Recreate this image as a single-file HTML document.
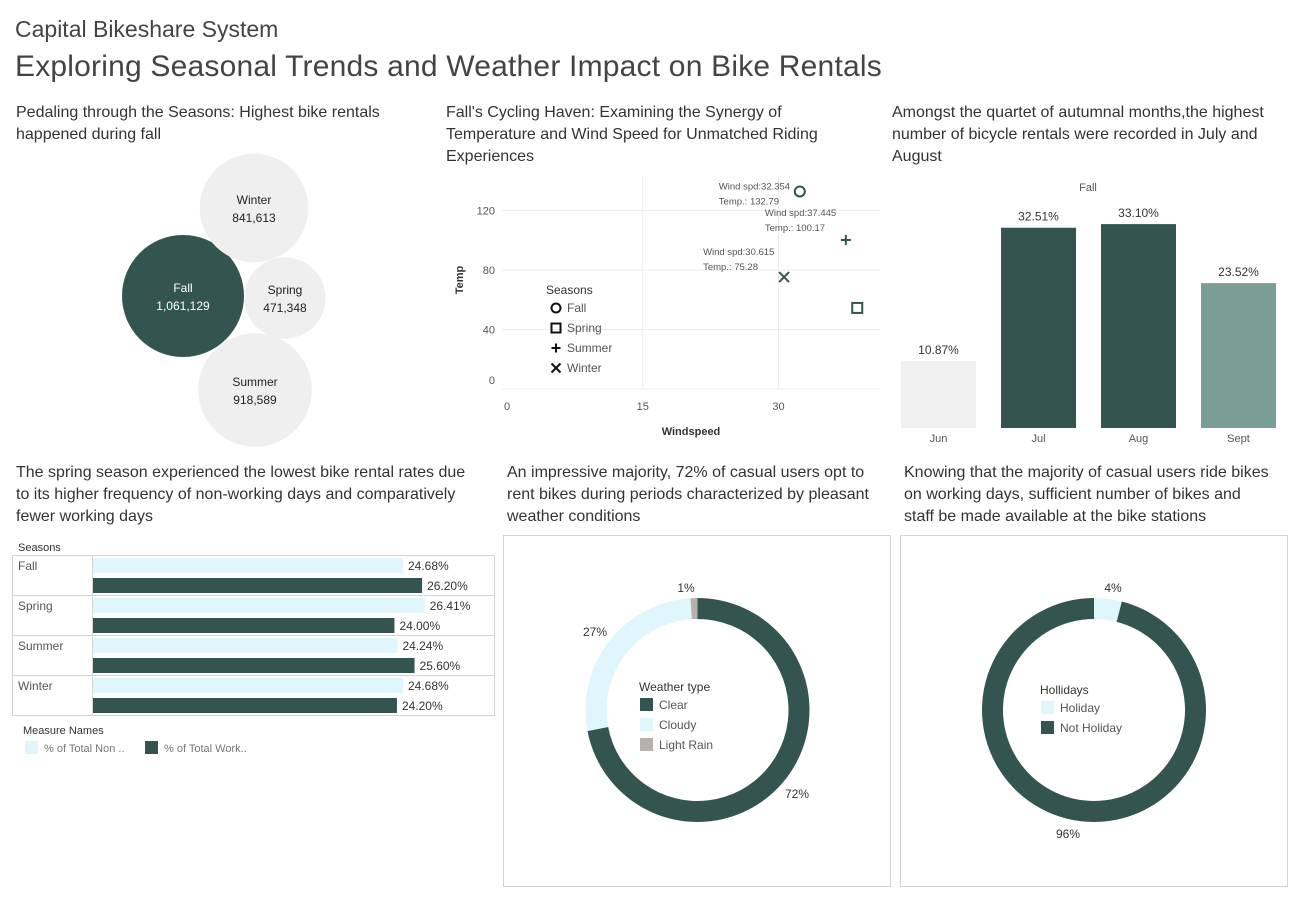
<!DOCTYPE html>
<html><head><meta charset="utf-8"><style>
body{margin:0;width:1299px;height:899px;background:#fff;font-family:"Liberation Sans",sans-serif;overflow:hidden;position:relative;color:#333}
.t{position:absolute;white-space:nowrap}
svg{position:absolute;left:0;top:0}
</style></head><body>
<div class="t" style="left:15px;top:16px;font-size:23px;color:#444">Capital Bikeshare System</div>
<div class="t" style="left:15px;top:50px;font-size:30px;color:#444;letter-spacing:0.2px">Exploring Seasonal Trends and Weather Impact on Bike Rentals</div>
<div class="t" style="left:16px;top:102px;font-size:16px;line-height:22px">Pedaling through the Seasons: Highest bike rentals<br>happened during fall</div>
<div class="t" style="left:446px;top:102px;font-size:16px;line-height:22px">Fall's Cycling Haven: Examining the Synergy of<br>Temperature and Wind Speed for Unmatched Riding<br>Experiences</div>
<div class="t" style="left:892px;top:102px;font-size:16px;line-height:22px">Amongst the quartet of autumnal months,the highest<br>number of bicycle rentals were recorded in July and<br>August</div>
<div class="t" style="left:16px;top:462px;font-size:16px;line-height:22px">The spring season experienced the lowest bike rental rates due<br>to its higher frequency of non-working days and comparatively<br>fewer working days</div>
<div class="t" style="left:507px;top:462px;font-size:16px;line-height:22px">An impressive majority, 72% of casual users opt to<br>rent bikes during periods characterized by pleasant<br>weather conditions</div>
<div class="t" style="left:904px;top:462px;font-size:16px;line-height:22px">Knowing that the majority of casual users ride bikes<br>on working days, sufficient number of bikes and<br>staff be made available at the bike stations</div>
<svg id="s" width="1299" height="899" font-family="Liberation Sans, sans-serif"></svg>
<script>
// bubble data
const bubbleSeasons=["Fall","Winter","Spring","Summer"];
const bubbleValues=[1061129,841613,471348,918589];
// scatter
const scatSeasons=["Fall","Spring","Summer","Winter"];
const scatWind=[32.354,38.7,37.445,30.615];
const scatTemp=[132.79,54.5,100.17,75.28];
const scatLabelled=[true,false,true,true];
const scatXTicks=[0,15,30];
const scatYTicks=[0,40,80,120];
// months
const months=["Jun","Jul","Aug","Sept"];
const monthPct=[10.87,32.51,33.10,23.52];
// hbar
const hSeasons=["Fall","Spring","Summer","Winter"];
const nonWork=[24.68,26.41,24.24,24.68];
const work=[26.20,24.00,25.60,24.20];
// donuts
const weatherTypes=["Clear","Cloudy","Light Rain"];
const weatherPct=[72,27,1];
const holidayTypes=["Holiday","Not Holiday"];
const holidayPct=[4,96];

const S=document.getElementById('s'),NS="http://www.w3.org/2000/svg";
function el(t,a,txt){const e=document.createElementNS(NS,t);for(const k in a)e.setAttribute(k,a[k]);if(txt!==undefined)e.textContent=txt;S.appendChild(e);return e;}
const DK="#34554f",LT="#dff6fd";

// bubbles
const bpos=[[183,296],[254,208],[285,298],[255,390]];
const bMax=Math.max(...bubbleValues);
bubbleSeasons.forEach((s,i)=>{
  const r=61*Math.sqrt(bubbleValues[i]/bMax);
  const c=el('circle',{cx:bpos[i][0],cy:bpos[i][1],r:r,fill:i==0?DK:"#efefef"});
  
  
  const col=i==0?"#fff":"#222";
  const t1=el('text',{x:bpos[i][0],y:bpos[i][1]-4,'text-anchor':'middle','font-size':12,fill:col},s);
  
  
  const t2=el('text',{x:bpos[i][0],y:bpos[i][1]+14,'text-anchor':'middle','font-size':12,fill:col},bubbleValues[i].toLocaleString('en-US'));
  
  
});

// scatter
const sx=v=>507+v*9.05, sy=v=>389-v*1.4875;
scatXTicks.forEach(v=>{
  if(v>0){const g=el('line',{x1:sx(v),x2:sx(v),y1:176,y2:389,stroke:"#ececec"});}
  const t=el('text',{x:sx(v),y:410,'text-anchor':'middle','font-size':11,fill:"#555"},v);
  
});
scatYTicks.forEach(v=>{
  const g=el('line',{x1:502,x2:880,y1:sy(v),y2:sy(v),stroke:"#ececec"});
  
  const t=el('text',{x:495,y:v==0?sy(v)-5:sy(v)+4,'text-anchor':'end','font-size':11,fill:"#555"},v);
  
});
const xt=el('text',{x:691,y:435,'text-anchor':'middle','font-size':11,'font-weight':'bold',fill:"#333"},"Windspeed");

const yt=el('text',{x:463,y:280,'text-anchor':'middle','font-size':11,'font-weight':'bold',fill:"#333",transform:"rotate(-90 463 280)"},"Temp");

function marker(kind,x,y,col,sz){
  let e;
  if(kind==0)e=el('circle',{cx:x,cy:y,r:sz,fill:"none",stroke:col,'stroke-width':2});
  else if(kind==1)e=el('rect',{x:x-sz,y:y-sz,width:2*sz,height:2*sz,fill:"none",stroke:col,'stroke-width':2});
  else if(kind==2)e=el('path',{d:`M${x-sz} ${y}H${x+sz}M${x} ${y-sz}V${y+sz}`,stroke:col,'stroke-width':2});
  else e=el('path',{d:`M${x-sz} ${y-sz}L${x+sz} ${y+sz}M${x+sz} ${y-sz}L${x-sz} ${y+sz}`,stroke:col,'stroke-width':2});
  return e;
}
const labelDy=[-2,0,-24,-22];
scatSeasons.forEach((s,i)=>{
  const x=sx(scatWind[i]),y=sy(scatTemp[i]);
  const m=marker(i,x,y,DK,5);
  
  
  if(scatLabelled[i]){
    const lx=x-81,ly=y+labelDy[i];
    const a=el('text',{x:lx,y:ly,'font-size':9.5,fill:"#555"},"Wind spd:"+scatWind[i]);
    
    const b=el('text',{x:lx,y:ly+15,'font-size':9.5,fill:"#555"},"Temp.: "+scatTemp[i]);
    
  }
});
const lg=el('text',{x:546,y:294,'font-size':12,fill:"#333"},"Seasons");

scatSeasons.forEach((s,i)=>{
  const y=308+i*20;
  const m=marker(i,556,y,"#111",4.5);
  
  const t=el('text',{x:567,y:y+4,'font-size':12,fill:"#555"},s);
  
});

// month bars
const mh=v=>v*6.16;
const ft=el('text',{x:1088,y:191,'text-anchor':'middle','font-size':11,fill:"#555"},"Fall");

const mcol=["#f0f0f0",DK,DK,"#7a9e96"];
months.forEach((m,i)=>{
  const x=901+i*100,h=mh(monthPct[i]);
  const r=el('rect',{x:x,y:428-h,width:75,height:h,fill:mcol[i]});
  
  const v=el('text',{x:x+37.5,y:428-h-7,'text-anchor':'middle','font-size':12,fill:"#333"},monthPct[i].toFixed(2)+"%");
  
  const l=el('text',{x:x+37.5,y:442,'text-anchor':'middle','font-size':11,fill:"#555"},m);
  
});

// hbar
const hw=v=>v*12.56;
const sh=el('text',{x:18,y:551,'font-size':11,fill:"#333"},"Seasons");

const fr=el('rect',{x:12.5,y:555.5,width:482,height:160,fill:"none",stroke:"#d4d4d4"});

const dv=el('line',{x1:92.5,x2:92.5,y1:555,y2:716,stroke:"#d4d4d4"});

hSeasons.forEach((s,i)=>{
  const y0=555+i*40;
  if(i>0){const ln=el('line',{x1:12,x2:494,y1:y0+.5,y2:y0+.5,stroke:"#d4d4d4"});}
  const l=el('text',{x:18,y:y0+15,'font-size':12,fill:"#555"},s);
  
  [[nonWork,LT,3],[work,DK,23]].forEach(([arr,c,off],j)=>{
    const w=hw(arr[i]);
    const r=el('rect',{x:93,y:y0+off,width:w,height:15,fill:c});
    
    const t=el('text',{x:93+w+5,y:y0+off+12,'font-size':12,fill:"#333"},arr[i].toFixed(2)+"%");
    
  });
});
const mn=el('text',{x:23,y:734,'font-size':11,fill:"#333"},"Measure Names");

[["% of Total Non ..",LT,25],["% of Total Work..",DK,145]].forEach(([n,c,x])=>{
  const r=el('rect',{x:x,y:741,width:13,height:13,fill:c});
  
  const t=el('text',{x:x+19,y:752,'font-size':11,fill:"#777"},n);
  
});

// donuts
function arc(cx,cy,R,r,a0,a1){
  const p=(a,rr)=>[cx+rr*Math.sin(a),cy-rr*Math.cos(a)];
  const lg=a1-a0>Math.PI?1:0;
  const [x0,y0]=p(a0,R),[x1,y1]=p(a1,R),[x2,y2]=p(a1,r),[x3,y3]=p(a0,r);
  return `M${x0} ${y0}A${R} ${R} 0 ${lg} 1 ${x1} ${y1}L${x2} ${y2}A${r} ${r} 0 ${lg} 0 ${x3} ${y3}Z`;
}
function donut(bx,cx,cy,names,vals,cols,labelPos,ltitle,lx,ly,key){
  const b=el('rect',{x:bx+.5,y:535.5,width:387,height:351,fill:"none",stroke:"#d4d4d4"});
  
  const tot=vals.reduce((a,b)=>a+b,0);let acc=0;
  vals.forEach((v,i)=>{
    const a0=acc/tot*2*Math.PI;acc+=v;const a1=acc/tot*2*Math.PI;
    const p=el('path',{d:arc(cx,cy,112,91,a0,a1),fill:cols[i]});
    
    
    const t=el('text',{x:labelPos[i][0],y:labelPos[i][1],'text-anchor':'middle','font-size':12,fill:"#333"},v+"%");
    
  });
  const tt=el('text',{x:lx,y:ly,'font-size':12,fill:"#333"},ltitle);
  
  names.forEach((n,i)=>{
    const r=el('rect',{x:lx+1,y:ly+7+i*20,width:13,height:13,fill:cols[i]});
    
    const t=el('text',{x:lx+20,y:ly+18+i*20,'font-size':12,fill:"#555"},n);
    
  });
}
donut(503,697.5,710,weatherTypes,weatherPct,[DK,LT,"#b8b0aa"],[[797,798],[595,636],[686,592]],"Weather type",639,691,'weather');
donut(900,1094,710,holidayTypes,holidayPct,[LT,DK],[[1113,592],[1068,838]],"Hollidays",1040,694,'holiday');
</script>
</body></html>
